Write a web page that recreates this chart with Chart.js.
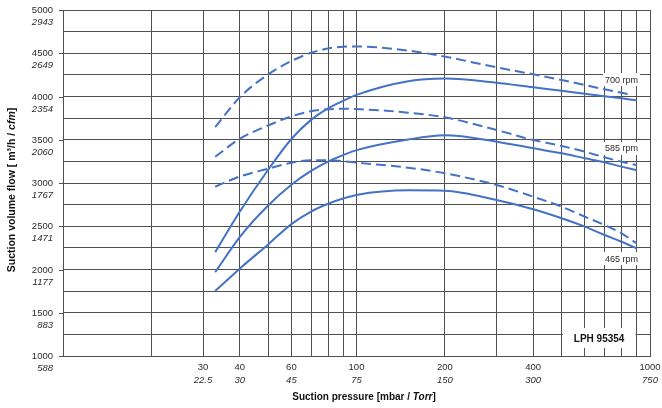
<!DOCTYPE html>
<html>
<head>
<meta charset="utf-8">
<script src="https://cdn.jsdelivr.net/npm/chart.js@4.4.0/dist/chart.umd.min.js"></script>
<style>
  html, body { margin: 0; padding: 0; background: #fff; }
  #wrap { width: 662px; height: 408px; }
</style>
</head>
<body>
<div id="wrap"><canvas id="c" width="662" height="408"></canvas></div>
<script>
// Suction pressure sample points [mbar]
const pressure = [33, 40, 50, 60, 70, 80, 90, 100, 150, 200, 300, 400, 500, 600, 700, 800, 900];
const pressure700Dashed = [33, 40, 50, 60, 70, 80, 90, 100, 150, 200, 300, 400, 500, 600, 700, 800, 870];

// Suction volume flow [m³/h]
const flow700Solid  = [2200, 2668, 3153, 3509, 3730, 3863, 3950, 4019, 4177, 4207, 4160, 4106, 4067, 4032, 4002, 3979, 3956];
const flow700Dashed = [3645, 3990, 4255, 4410, 4505, 4555, 4575, 4578, 4530, 4461, 4337, 4257, 4191, 4133, 4083, 4044, 4017];
const flow585Solid  = [1968, 2375, 2740, 2980, 3140, 3248, 3322, 3380, 3503, 3551, 3478, 3401, 3343, 3286, 3239, 3189, 3150];
const flow585Dashed = [3304, 3510, 3665, 3770, 3830, 3852, 3858, 3855, 3813, 3759, 3613, 3497, 3428, 3362, 3297, 3246, 3208];
const flow465Solid  = [1751, 2010, 2290, 2525, 2670, 2760, 2820, 2862, 2915, 2910, 2803, 2696, 2592, 2495, 2399, 2321, 2245];
const flow465Dashed = [2957, 3075, 3165, 3235, 3262, 3263, 3252, 3235, 3177, 3112, 2977, 2842, 2726, 2610, 2514, 2418, 2303];

// Axis grid and tick labels
const xGridValues = [10, 20, 30, 40, 50, 60, 70, 80, 90, 100, 200, 300, 400, 500, 600, 700, 800, 900, 1000];
const xTickMbar = [30, 40, 60, 100, 200, 400, 1000];
const xTickTorr = ['22.5', '30', '45', '75', '150', '300', '750'];
const yGridValues = [1000, 1250, 1500, 1750, 2000, 2250, 2500, 2750, 3000, 3250, 3500, 3750, 4000, 4250, 4500, 4750, 5000];
const yTickM3h = [1000, 1500, 2000, 2500, 3000, 3500, 4000, 4500, 5000];
const yTickCfm = ['588', '883', '1177', '1471', '1767', '2060', '2354', '2649', '2943'];

const speedLabels = ['700 rpm', '585 rpm', '465 rpm'];
const modelName = 'LPH 95354';

const BLUE = '#4472C4';
const GRID = '#505050';
const TEXT = '#2b2b2b';
const FONT = '"Liberation Sans", Arial, Helvetica, sans-serif';

function pts(xs, ys) { return xs.map((x, i) => ({ x: x, y: ys[i] })); }

function curve(data, dashed) {
  return {
    data: data,
    borderColor: BLUE,
    borderWidth: 2,
    borderDash: dashed ? [10, 5] : [],
    pointRadius: 0,
    fill: false,
    cubicInterpolationMode: 'monotone'
  };
}

// Draws a string made of runs with different font styles
function drawRuns(ctx, runs, size, cx, cy) {
  let total = 0;
  runs.forEach(r => { ctx.font = r.style + ' ' + size + 'px ' + FONT; r.w = ctx.measureText(r.t).width; total += r.w; });
  let x = cx - total / 2;
  ctx.textAlign = 'left';
  ctx.textBaseline = 'middle';
  runs.forEach(r => { ctx.font = r.style + ' ' + size + 'px ' + FONT; ctx.fillText(r.t, x, cy); x += r.w; });
}

const annotations = {
  id: 'annotations',
  beforeDatasetsDraw(chart) {
    const ctx = chart.ctx, xs = chart.scales.x, ys = chart.scales.y;
    ctx.save();
    // speed labels on white patches
    const anchors = [[800, 4190], [800, 3393], [800, 2121]];
    ctx.font = '9px ' + FONT;
    speedLabels.forEach((s, i) => {
      const px = xs.getPixelForValue(anchors[i][0]);
      const py = ys.getPixelForValue(anchors[i][1]);
      const w = ctx.measureText(s).width;
      ctx.fillStyle = '#fff';
      ctx.fillRect(px - w / 2 - 2, py - 7, w + 4, 13);
      ctx.fillStyle = TEXT;
      ctx.textAlign = 'center';
      ctx.textBaseline = 'middle';
      ctx.fillText(s, px, py);
    });
    // model box
    const bx0 = xs.getPixelForValue(500) + 1, bx1 = xs.getPixelForValue(900) - 1;
    const by0 = ys.getPixelForValue(1324), by1 = ys.getPixelForValue(1092);
    ctx.fillStyle = '#fff';
    ctx.fillRect(bx0, by0, bx1 - bx0, by1 - by0);
    ctx.fillStyle = '#111';
    ctx.font = 'bold 10px ' + FONT;
    ctx.textAlign = 'center';
    ctx.textBaseline = 'middle';
    ctx.fillText(modelName, (bx0 + bx1) / 2, (by0 + by1) / 2 + 1);
    ctx.restore();
  },
  afterDraw(chart) {
    const ctx = chart.ctx, xs = chart.scales.x, ys = chart.scales.y;
    const area = chart.chartArea;
    ctx.save();
    ctx.fillStyle = TEXT;
    // y ticks and labels
    ctx.strokeStyle = GRID;
    ctx.lineWidth = 1;
    yTickM3h.forEach((v, i) => {
      const py = Math.round(ys.getPixelForValue(v)) + 0.5;
      ctx.beginPath();
      ctx.moveTo(area.left - 4, py);
      ctx.lineTo(area.left, py);
      ctx.stroke();
      ctx.textAlign = 'right';
      ctx.textBaseline = 'middle';
      ctx.font = '9.5px ' + FONT;
      ctx.fillText(String(v), area.left - 10, py);
      ctx.font = 'italic 9.5px ' + FONT;
      ctx.fillText(yTickCfm[i], area.left - 10, py + 12);
    });
    // x labels
    ctx.textAlign = 'center';
    ctx.textBaseline = 'middle';
    xTickMbar.forEach((v, i) => {
      const px = xs.getPixelForValue(v);
      ctx.font = '9.5px ' + FONT;
      ctx.fillText(String(v), px, area.bottom + 11);
      ctx.font = 'italic 9.5px ' + FONT;
      ctx.fillText(xTickTorr[i], px, area.bottom + 24);
    });
    // axis titles
    ctx.fillStyle = '#111';
    drawRuns(ctx, [
      { t: 'Suction pressure [mbar / ', style: 'bold' },
      { t: 'Torr', style: 'italic bold' },
      { t: ']', style: 'bold' }
    ], 10, 364, area.bottom + 41);
    ctx.save();
    ctx.translate(12, 190);
    ctx.rotate(-Math.PI / 2);
    drawRuns(ctx, [
      { t: 'Suction volume flow [ m³/h / ', style: 'bold' },
      { t: 'cfm', style: 'italic bold' },
      { t: ']', style: 'bold' }
    ], 10.5, 0, 0);
    ctx.restore();
    ctx.restore();
  }
};

new Chart(document.getElementById('c'), {
  type: 'line',
  data: {
    datasets: [
      curve(pts(pressure700Dashed, flow700Dashed), true),
      curve(pts(pressure, flow700Solid), false),
      curve(pts(pressure, flow585Dashed), true),
      curve(pts(pressure, flow585Solid), false),
      curve(pts(pressure, flow465Dashed), true),
      curve(pts(pressure, flow465Solid), false)
    ]
  },
  options: {
    responsive: false,
    animation: false,
    devicePixelRatio: 1,
    layout: { padding: { left: 63, right: 12, top: 10, bottom: 52 } },
    plugins: { legend: { display: false }, tooltip: { enabled: false } },
    scales: {
      x: {
        type: 'logarithmic',
        min: 10, max: 1000,
        afterBuildTicks: s => { s.ticks = xGridValues.map(v => ({ value: v })); },
        ticks: { display: false },
        grid: { color: GRID, lineWidth: 1, drawTicks: false },
        border: { display: true, color: GRID, width: 1 }
      },
      y: {
        type: 'linear',
        min: 1000, max: 5000,
        afterBuildTicks: s => { s.ticks = yGridValues.map(v => ({ value: v })); },
        ticks: { display: false },
        grid: { color: GRID, lineWidth: 1, drawTicks: false },
        border: { display: true, color: GRID, width: 1 }
      }
    }
  },
  plugins: [annotations]
});
</script>
</body>
</html>
